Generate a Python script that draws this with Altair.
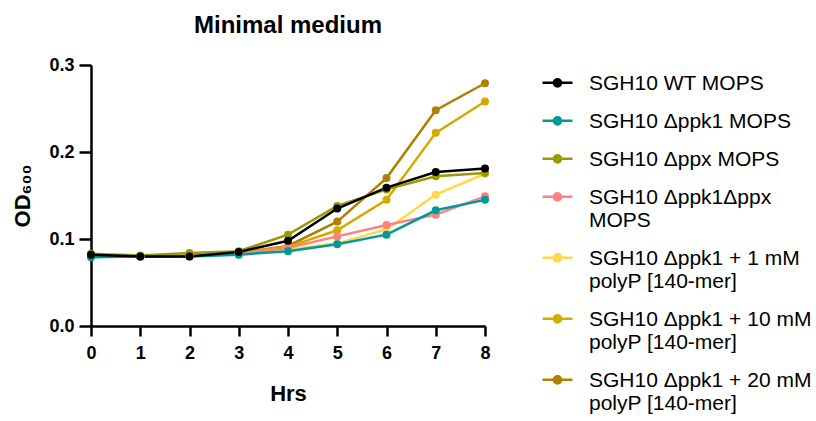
import altair as alt
import pandas as pd

hours = [0, 1, 2, 3, 4, 5, 6, 7, 8]

series_names = [
    "SGH10 WT MOPS",
    "SGH10 Δppk1 MOPS",
    "SGH10 Δppx MOPS",
    "SGH10 Δppk1Δppx|MOPS",
    "SGH10 Δppk1 + 1 mM|polyP [140-mer]",
    "SGH10 Δppk1 + 10 mM|polyP [140-mer]",
    "SGH10 Δppk1 + 20 mM|polyP [140-mer]",
]
series_colors = ["#000000", "#009999", "#999900", "#ff8080", "#ffd94a", "#d4aa00", "#b08000"]

wt = [0.082, 0.080, 0.080, 0.085, 0.098, 0.135, 0.159, 0.177, 0.181]
ppk1 = [0.079, 0.080, 0.080, 0.082, 0.086, 0.094, 0.105, 0.133, 0.145]
ppx = [0.083, 0.081, 0.084, 0.086, 0.105, 0.138, 0.157, 0.172, 0.176]
ppk1ppx = [0.081, 0.080, 0.081, 0.083, 0.090, 0.103, 0.116, 0.128, 0.149]
polyp1 = [0.080, 0.080, 0.081, 0.083, 0.088, 0.095, 0.111, 0.151, 0.175]
polyp10 = [0.081, 0.080, 0.081, 0.084, 0.091, 0.110, 0.145, 0.222, 0.258]
polyp20 = [0.081, 0.080, 0.081, 0.084, 0.092, 0.120, 0.170, 0.248, 0.279]

all_values = [wt, ppk1, ppx, ppk1ppx, polyp1, polyp10, polyp20]

rows = []
# reversed so the first series is drawn on top
for k in range(len(series_names) - 1, -1, -1):
    for h, v in zip(hours, all_values[k]):
        rows.append({"Hrs": h, "OD": v, "Strain": series_names[k]})
df = pd.DataFrame(rows)

FONT = "Liberation Sans"

# legend symbol: a short line with a dot, shifted down to sit on the first text line
_dy = 0.69
_sym = f"M-1,{_dy}H1"
for r in (0.24, 0.15, 0.06):
    _sym += f"M{r},{_dy}A{r},{r},0,1,1,{-r},{_dy}A{r},{r},0,1,1,{r},{_dy}"

legend = alt.Legend(
    title=None,
    orient="none",
    legendX=450,
    legendY=-9,
    padding=0,
    symbolType=_sym,
    symbolSize=900,
    symbolStrokeWidth=2.5,
    symbolOpacity=1,
    labelFont=FONT,
    labelFontSize=21,
    labelColor="black",
    labelOffset=15,
    labelLimit=400,
    labelBaseline="top",
    rowPadding=0,
    labelExpr="split(datum.label, '|')",
)

color = alt.Color(
    "Strain:N",
    scale=alt.Scale(domain=series_names, range=series_colors),
    legend=legend,
)

x = alt.X(
    "Hrs:Q",
    scale=alt.Scale(domain=[0, 8], nice=False),
    axis=alt.Axis(values=hours, format="d", title="Hrs", titlePadding=21,
                  labelFlush=False, tickSize=10, labelPadding=8),
)
y = alt.Y(
    "OD:Q",
    scale=alt.Scale(domain=[0, 0.3], nice=False),
    axis=alt.Axis(values=[0, 0.1, 0.2, 0.3], format=".1f", title="OD₆₀₀", titlePadding=14,
                  labelFlush=False, tickSize=12, labelPadding=5),
)

base = alt.Chart(df)
lines = base.mark_line(strokeWidth=2.5).encode(x=x, y=y, color=color, order=alt.Order("Hrs:Q"))
points = base.mark_circle(size=64, opacity=1).encode(x=x, y=y, color=color)

chart = (
    alt.layer(lines, points)
    .properties(
        width=394,
        height=261,
        title=alt.Title(
            "Minimal medium",
            font=FONT,
            fontSize=24,
            fontWeight="bold",
            color="black",
            anchor="middle",
            baseline="bottom",
            offset=19,
            dy=25,
        ),
        autosize=alt.AutoSizeParams(type="none"),
        padding={"left": 91, "top": 65, "right": 331, "bottom": 95},
    )
    .configure_view(stroke=None)
    .configure_axis(
        grid=False,
        domainColor="black",
        domainWidth=2.5,
        tickColor="black",
        tickWidth=2.5,
        labelFont=FONT,
        labelFontSize=18,
        labelFontWeight="bold",
        labelColor="black",
        titleFont=FONT,
        titleFontSize=22,
        titleFontWeight="bold",
        titleColor="black",
    )
)

chart.save("out.html", embed_options={"renderer": "svg", "actions": False})
